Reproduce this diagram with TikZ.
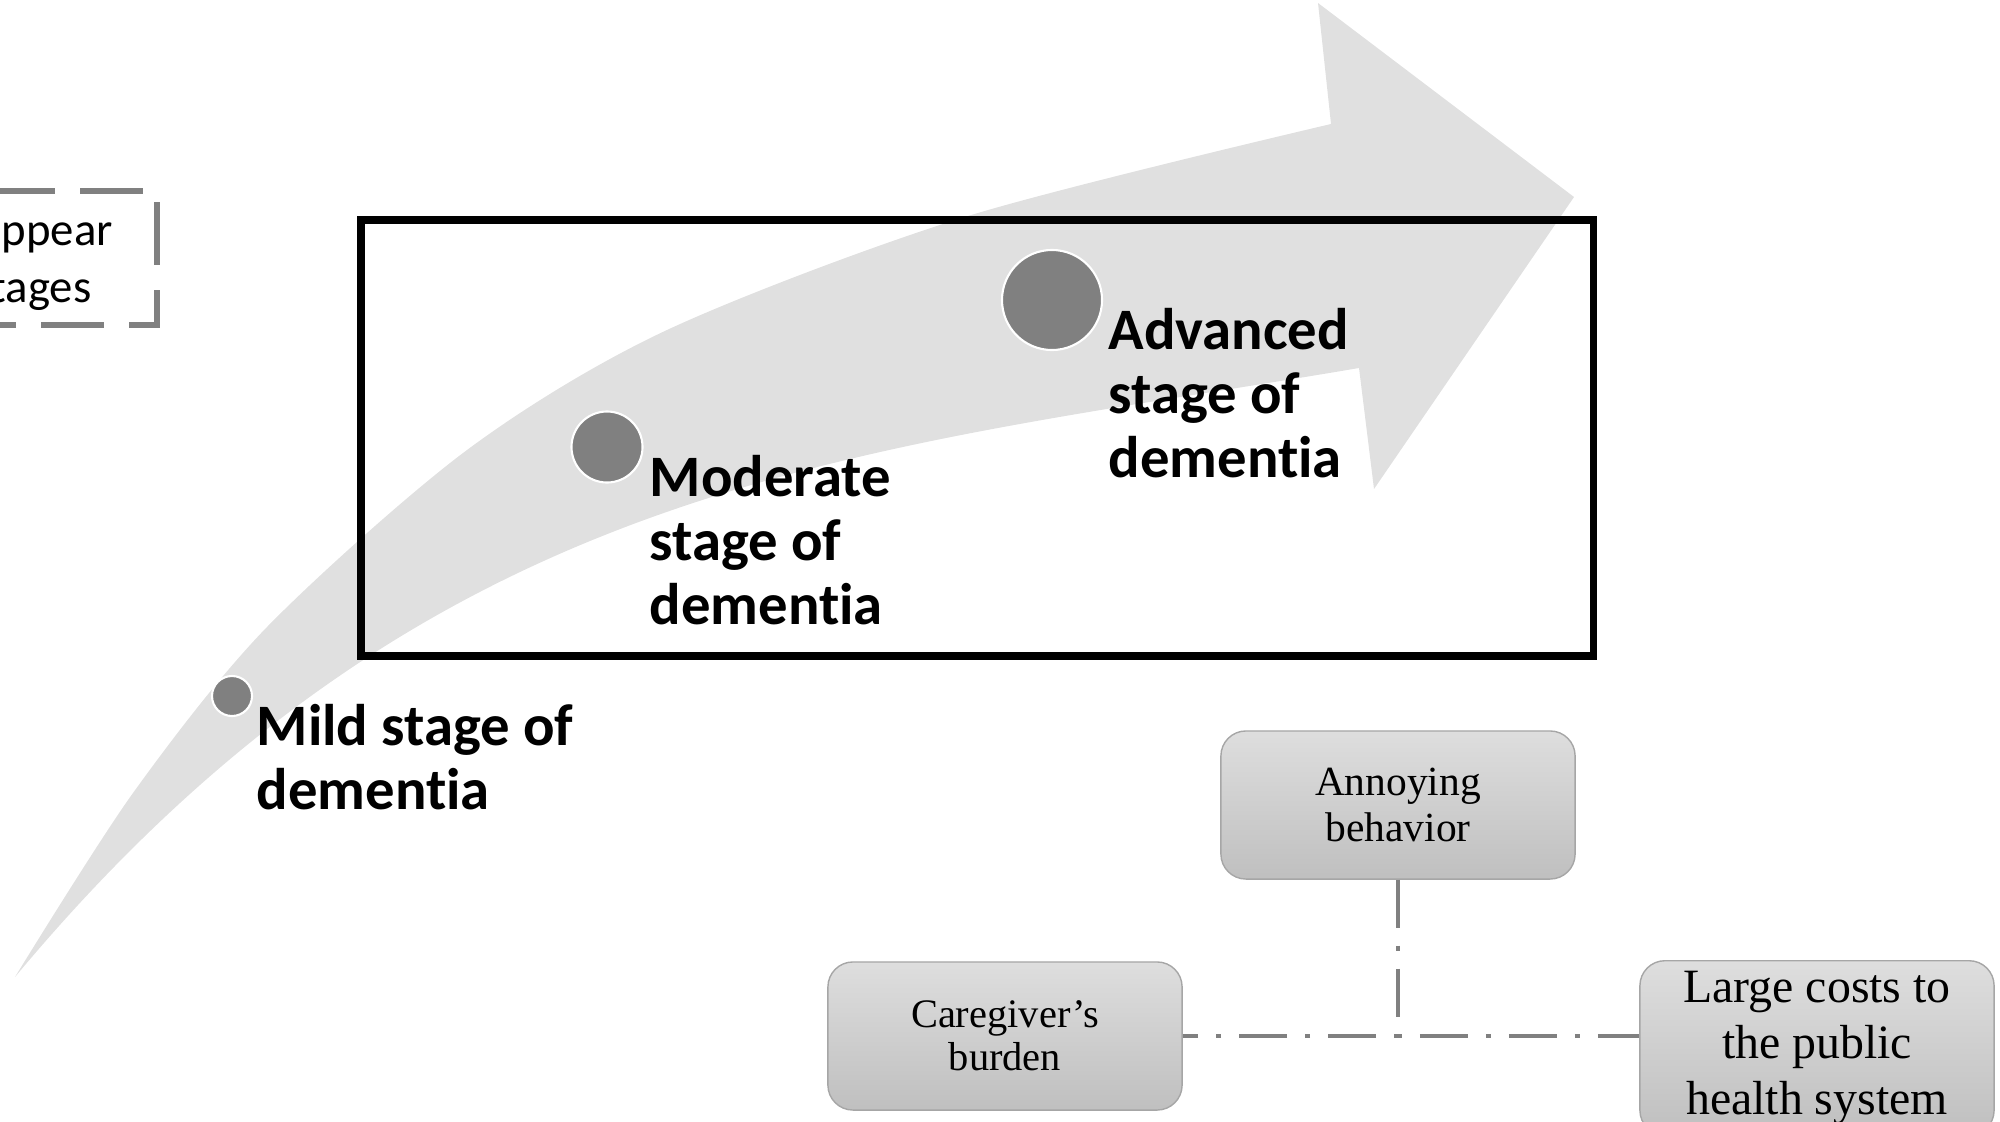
\documentclass[tikz,border=0pt]{standalone}
\usepackage{fontspec}
\newfontfamily\stagefont{Carlito}[Ligatures=NoCommon]
\newfontfamily\boxfont{Liberation Serif}
\usetikzlibrary{positioning}

\begin{document}
\begin{tikzpicture}
      [x=0.01cm,y=-0.01cm
      ,arr/.style={fill=black!12}
      ,dot/.style={circle,fill=black!50,draw=white,line width=0.6pt,inner sep=0}
      ,lbl/.style={anchor=base west,align=left,inner sep=0,font={\stagefont\bfseries\fontsize{16.7}{18.2}\selectfont}}
      ,hint/.style={anchor=base west,inner sep=0,font={\stagefont\fontsize{13.3}{15}\selectfont}}
      ,frame/.style={draw=black,line width=2pt}
      ,dashbox/.style={draw=black!50,line width=1.7pt,dash pattern=on 0.63cm off 0.25cm}
      ,effect/.style={draw=black!35,rounded corners=0.25cm,top color=black!13,bottom color=black!25,minimum width=3.54cm,minimum height=1.48cm,align=center,inner sep=0}
      ,link/.style={draw=black!50,line width=1.1pt,dash pattern=on 0.48cm off 0.18cm on 0.05cm off 0.18cm}
      ]
        \useasboundingbox (0,0) rectangle (2000,1121);

        \fill[arr] plot[smooth,tension=0.5] coordinates {(15,977) (133,793) (267,627) (467,450) (667,330) (968,216) (1331,124)}
            -- (1318,3) -- (1574,197) -- (1374,489) -- (1359,368)
            .. controls (859,453) and (435,473) .. (15,977) -- cycle;

        \draw[dashbox] (-8,191) -- (157,191) -- (157,325) -- (-30,325);
        \node[hint] (hinttop) at (1,245) {ppear};
        \node[hint] (hintbot) at (-10,302) {tages};

        \draw[frame] (361,220) rectangle (1593,656);

        \node[dot,minimum size=0.40cm] (mild) at (232,696) {};
        \node[dot,minimum size=0.71cm] (moder) at (607,447) {};
        \node[dot,minimum size=1.0cm] (adv) at (1052,300) {};

        \node[lbl] (mildtxt) at (256,809) {Mild stage of\\dementia};
        \node[lbl] (modertxt) at (649,624) {Moderate\\stage of\\dementia};
        \node[lbl] (advtxt) at (1108,477) {Advanced\\stage of\\dementia};

        \node[effect,font={\boxfont\fontsize{11.8}{13.1}\selectfont}] (annoy) at (1398,805) {Annoying\\behavior};
        \node[effect,font={\boxfont\fontsize{11.5}{12.3}\selectfont}] (care) at (1005,1036) {Caregiver’s\\burden};
        \node[effect,anchor=north,inner ysep=3pt,font={\boxfont\fontsize{13.6}{15.9}\selectfont}] (cost) at (1817,960) {Large costs to\\the public\\health system};

        \draw[link] (annoy.south) |- (care.east);
        \draw[link] (annoy.south) |- (cost.west |- care.east);
      \end{tikzpicture}
\end{document}
